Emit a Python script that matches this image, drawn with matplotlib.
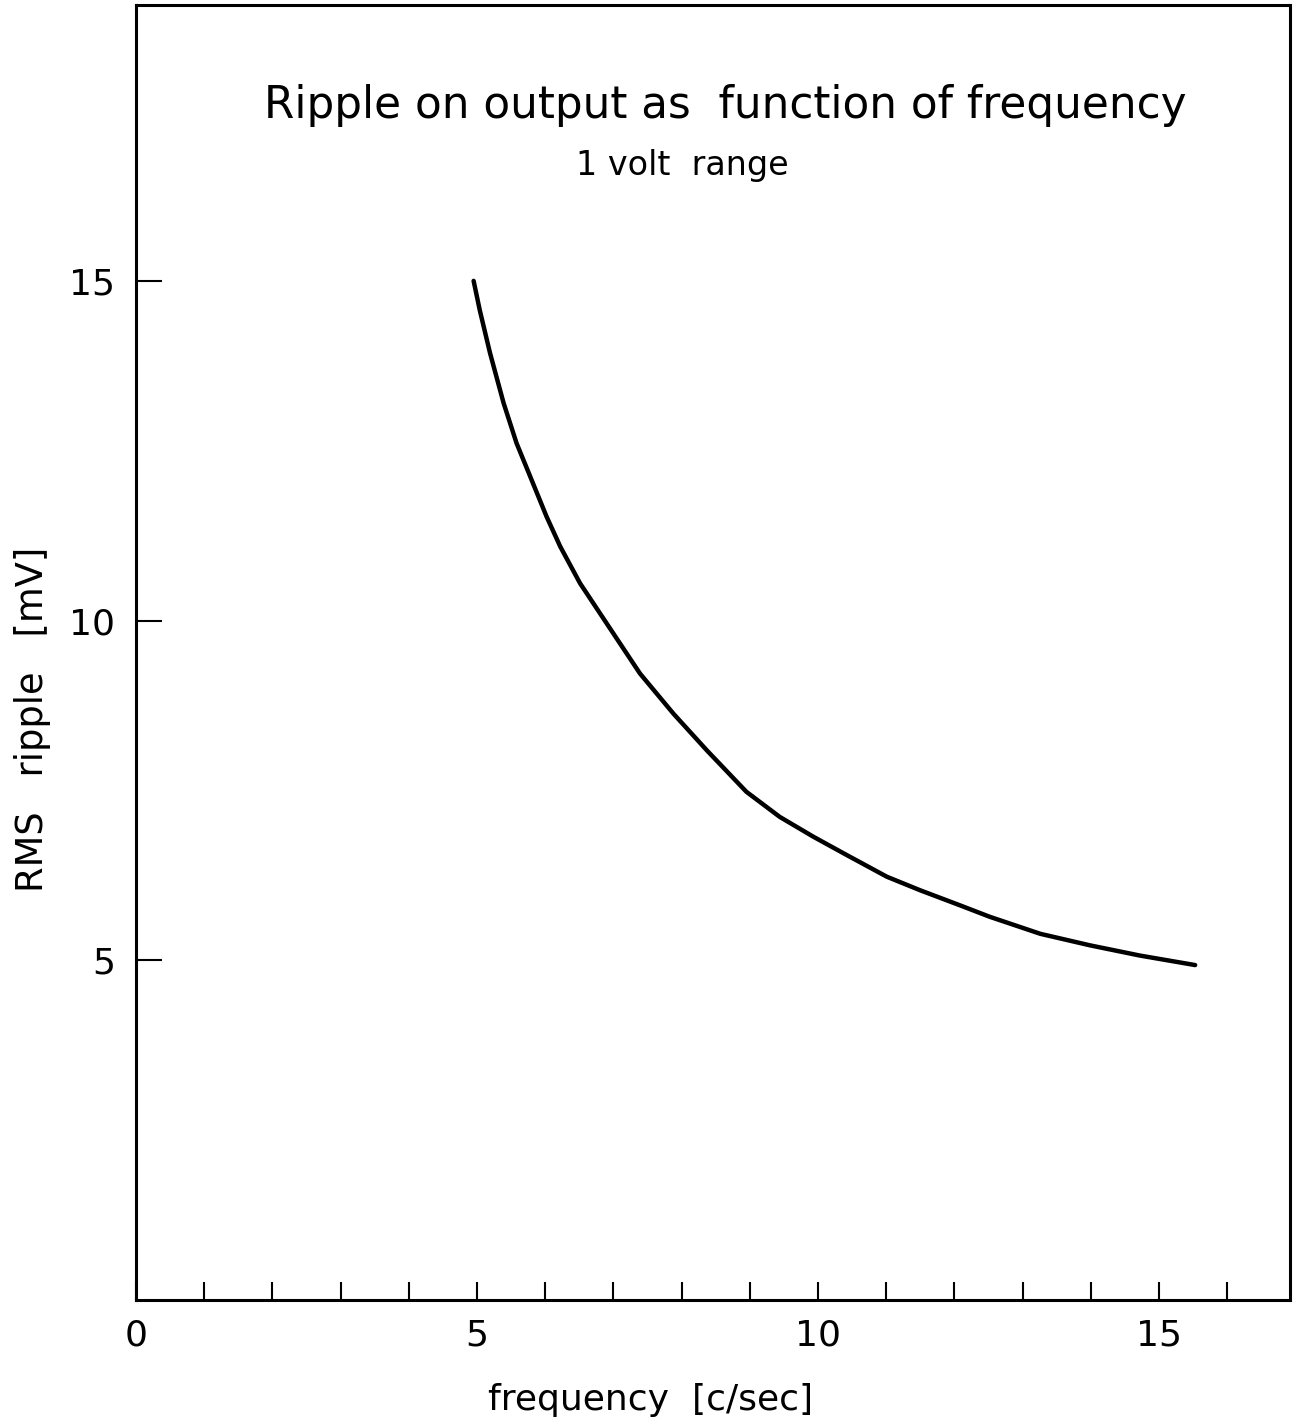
import matplotlib
matplotlib.use("Agg")
import matplotlib.pyplot as plt

# curve
freq = [4.95, 5.04, 5.19, 5.39, 5.58, 5.78, 6.02, 6.22, 6.51, 6.90, 7.39, 7.88, 8.37,
        8.95, 9.44, 9.93, 10.42, 11.01, 11.50, 12.08, 12.52, 13.26, 13.99, 14.72, 15.53]
ripple = [15.0, 14.57, 13.94, 13.20, 12.61, 12.12, 11.53, 11.09, 10.55, 9.96, 9.22, 8.63, 8.09,
          7.48, 7.11, 6.82, 6.55, 6.23, 6.03, 5.81, 5.64, 5.39, 5.22, 5.07, 4.93]

x_ticks = list(range(0, 17))
x_labels = ["0", "", "", "", "", "5", "", "", "", "", "10", "", "", "", "", "15", ""]
y_ticks = [5, 10, 15]

plt.rcParams['font.family'] = ['DejaVu Sans']

fig = plt.figure(figsize=(12.98, 14.28), dpi=100)
ax = fig.add_axes([0.1048, 0.0896, 0.889, 0.9069])

ax.plot(freq, ripple, color="black", lw=3.2, solid_capstyle="round")

ax.set_xlim(0, 16.92)
ax.set_ylim(0, 19.06)
ax.set_xticks(x_ticks)
ax.set_xticklabels(x_labels)
ax.set_yticks(y_ticks)
ax.tick_params(axis="x", direction="in", length=13, width=1.5, pad=13, labelsize=26)
ax.tick_params(axis="y", direction="in", length=19, width=1.5, pad=15, labelsize=26)
for s in ax.spines.values():
    s.set_linewidth(2.2)

fig.text(0.559, 0.926, "Ripple on output as  function of frequency", ha="center", va="center", fontsize=31.5)
fig.text(0.526, 0.884, "1 volt  range", ha="center", va="center", fontsize=24)
fig.text(0.501, 0.0196, "frequency  [c/sec]", ha="center", va="center", fontsize=26)
fig.text(0.025, 0.496, "RMS   ripple   [mV]", ha="center", va="center", rotation=90, fontsize=26.5)

fig.savefig("out.png", dpi=100, facecolor="white")
